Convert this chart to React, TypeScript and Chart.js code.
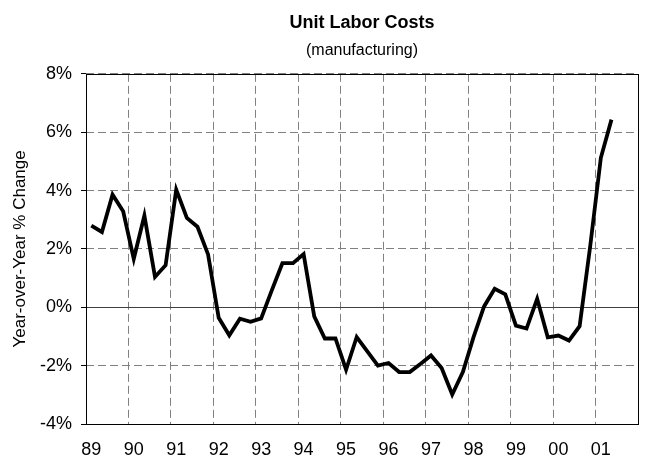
import { useEffect, useRef } from 'react';
import { Chart, registerables } from 'chart.js';

Chart.register(...registerables);

const years = ['89', '90', '91', '92', '93', '94', '95', '96', '97', '98', '99', '00', '01'];
const quarters = ['Q1', 'Q2', 'Q3', 'Q4'];
// Year-over-year % change, quarterly, 89Q1 .. 01Q2
const ulcChange = [
  2.80, 2.58, 3.86, 3.29,
  1.66, 3.14, 1.04, 1.44,
  4.03, 3.06, 2.76, 1.81,
  -0.36, -0.96, -0.39, -0.50,
  -0.38, 0.58, 1.51, 1.51,
  1.82, -0.31, -1.07, -1.07,
  -2.14, -1.02, -1.51, -2.00,
  -1.91, -2.22, -2.22, -1.94,
  -1.65, -2.08, -2.99, -2.22,
  -1.03, 0.03, 0.63, 0.44,
  -0.63, -0.73, 0.29, -1.03,
  -0.97, -1.14, -0.65, 2.10,
  5.12, 6.43,
];
const yMin = -4;
const yMax = 8;
const yStep = 2;

const categories = years.flatMap((y) => quarters.map((q) => `${q} ${y}`));

const FONT = "'Liberation Sans', Arial, Helvetica, sans-serif";

export default function App() {
  const ref = useRef<HTMLCanvasElement>(null);
  useEffect(() => {
    if (!ref.current) return;
    const frame = {
      id: 'frame',
      beforeDatasetsDraw(chart: any) {
        const { ctx, chartArea: a } = chart;
        ctx.save();
        ctx.strokeStyle = '#000';
        ctx.lineWidth = 1;
        ctx.setLineDash([]);
        ctx.strokeRect(Math.round(a.left) + 0.5, Math.round(a.top) + 0.5, Math.round(a.width), Math.round(a.height));
        ctx.restore();
      },
    };
    const chart = new Chart(ref.current, {
      type: 'line',
      data: {
        labels: categories,
        datasets: [
          {
            data: ulcChange,
            borderColor: '#000',
            borderWidth: 3.8,
            pointRadius: 0,
            tension: 0,
            fill: false,
          },
        ],
      },
      options: {
        responsive: false,
        animation: false,
        layout: { padding: { left: 0, right: 7, top: 0, bottom: 0 } },
        font: { family: FONT },
        plugins: {
          legend: { display: false },
          tooltip: { enabled: false },
          title: {
            display: true,
            text: 'Unit Labor Costs',
            fullSize: false,
            color: '#000',
            font: { family: FONT, size: 18, weight: 'bold' },
            padding: { top: 12, bottom: 4 },
          },
          subtitle: {
            display: true,
            text: '(manufacturing)',
            fullSize: false,
            color: '#000',
            font: { family: FONT, size: 16 },
            padding: { top: 3, bottom: 14 },
          },
        },
        scales: {
          x: {
            type: 'category',
            offset: true,
            grid: {
              offset: true,
              drawTicks: false,
              lineWidth: 1,
              color: (c: any) =>
                typeof c.index === 'number' && c.index % 4 === 0 && c.index > 0 ? '#808080' : 'rgba(0,0,0,0)',
            },
            border: { display: false, dash: [8, 4] },
            ticks: {
              autoSkip: false,
              maxRotation: 0,
              minRotation: 0,
              padding: 15,
              color: '#000',
              font: { family: FONT, size: 18 },
              callback: (_v: any, i: number) => (i % 4 === 0 ? years[i / 4] : ''),
            },
            afterFit: (s: any) => {
              s.height = 37;
              s.paddingLeft = 0;
              s.paddingRight = 0;
            },
          },
          y: {
            min: yMin,
            max: yMax,
            ticks: {
              stepSize: yStep,
              padding: 9,
              color: '#000',
              font: { family: FONT, size: 18 },
              callback: (v: any) => `${v}%`,
            },
            grid: {
              lineWidth: 1,
              color: (c: any) => (c.tick && c.tick.value === 0 ? '#404040' : '#808080'),
              tickColor: '#000',
              tickLength: 5,
              tickBorderDash: [],
            },
            border: {
              display: false,
              dash: (c: any) => (c.tick && c.tick.value === 0 ? [] : [8, 4]),
            },
            title: {
              display: true,
              text: 'Year-over-Year % Change',
              color: '#000',
              font: { family: FONT, size: 17 },
              padding: { top: 10, bottom: 0 },
            },
            afterFit: (s: any) => {
              s.width = 86;
            },
          },
        },
      },
      plugins: [frame],
    } as any);
    return () => chart.destroy();
  }, []);
  return (
    <canvas
      ref={ref}
      width={645}
      height={461}
      style={{ position: 'fixed', left: 0, top: 0, background: '#fff' }}
    />
  );
}
